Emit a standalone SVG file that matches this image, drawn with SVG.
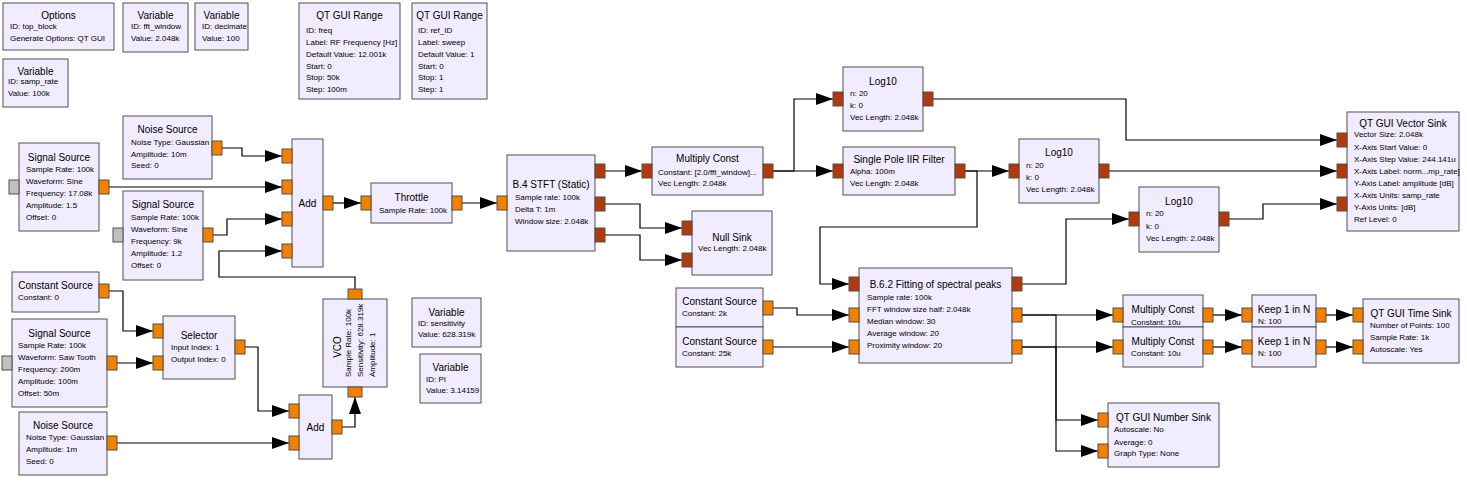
<svg xmlns="http://www.w3.org/2000/svg" width="1467" height="485" viewBox="0 0 1467 485">
<style>
.b{fill:#F1ECFF;stroke:#505050;stroke-width:1}
.t{font-family:"Liberation Sans",Arial,sans-serif;font-size:10px;text-anchor:middle;fill:#000}
.p{font-family:"Liberation Sans",Arial,sans-serif;font-size:8px;fill:#000}
.o{fill:#F58000;stroke:#505050;stroke-width:1}
.v{fill:#B03A0C;stroke:#505050;stroke-width:1}
.g{fill:#C0C0C0;stroke:#505050;stroke-width:1}
.c{fill:none;stroke:#000;stroke-width:1.2;marker-end:url(#arr)}
</style>
<defs>
<marker id="arr" markerUnits="userSpaceOnUse" markerWidth="17" markerHeight="12" refX="17" refY="6" orient="auto">
<path d="M0,0 L17,6 L0,12 z" fill="#000"/>
</marker>
</defs>
<rect width="1467" height="485" fill="#fff"/>

<g id="connectors">
<path class="c" d="M222,148 H242 V156 H282"/>
<path class="c" d="M109,187 H282"/>
<path class="c" d="M213,235 H227 V219 H282"/>
<path class="c" d="M355,289 V277 H219 V251 H282"/>
<path class="c" d="M333,203 H361"/>
<path class="c" d="M462,203 H497"/>
<path class="c" d="M605,171 H642"/>
<path class="c" d="M605,204 H640 V228 H682"/>
<path class="c" d="M605,235 H640 V260 H682"/>
<path class="c" d="M773,171 H833"/>
<path class="c" d="M773,171 H794 V99 H833"/>
<path class="c" d="M965,171 H1009"/>
<path class="c" d="M965,171 H977 V227 H820 V284 H849"/>
<path class="c" d="M933,99 H1126 V140 H1337"/>
<path class="c" d="M1109,171 H1337"/>
<path class="c" d="M1229,219 H1263 V204 H1337"/>
<path class="c" d="M1022,284 H1066 V219 H1129"/>
<path class="c" d="M773,308 H797 V315 H849"/>
<path class="c" d="M773,347 H849"/>
<path class="c" d="M1022,315 H1113"/>
<path class="c" d="M1022,347 H1113"/>
<path class="c" d="M1022,315 H1056 V420 H1098"/>
<path class="c" d="M1022,347 H1056 V451 H1098"/>
<path class="c" d="M1213,315 H1242"/>
<path class="c" d="M1213,347 H1242"/>
<path class="c" d="M1326,315 H1353"/>
<path class="c" d="M1326,347 H1353"/>
<path class="c" d="M109,291 H123 V331 H153"/>
<path class="c" d="M117,363 H153"/>
<path class="c" d="M245,347 H258 V411 H289"/>
<path class="c" d="M117,443 H289"/>
<path class="c" d="M342,427 H355 V397"/>
</g>

<g id="options">
<rect class="b" x="3" y="3" width="111" height="47"/>
<text class="t" x="58.5" y="18.5">Options</text>
<text class="p" x="10" y="28.5">ID: top_block</text>
<text class="p" x="10" y="40.5">Generate Options: QT GUI</text>
</g>
<g id="var_fft_window">
<rect class="b" x="123" y="3" width="65" height="49"/>
<text class="t" x="155.5" y="18.5">Variable</text>
<text class="p" x="131" y="28.5">ID: fft_window</text>
<text class="p" x="131" y="40.5">Value: 2.048k</text>
</g>
<g id="var_decimate">
<rect class="b" x="195" y="3" width="53" height="47"/>
<text class="t" x="221.5" y="18.5">Variable</text>
<text class="p" x="202" y="28.5">ID: decimate</text>
<text class="p" x="202" y="40.5">Value: 100</text>
</g>
<g id="var_samp_rate">
<rect class="b" x="3" y="59" width="65" height="48"/>
<text class="t" x="35.5" y="74.5">Variable</text>
<text class="p" x="8" y="84">ID: samp_rate</text>
<text class="p" x="8" y="96">Value: 100k</text>
</g>
<g id="range_freq">
<rect class="b" x="299" y="3" width="101" height="96"/>
<text class="t" x="349.5" y="19">QT GUI Range</text>
<text class="p" x="306" y="33">ID: freq</text>
<text class="p" x="306" y="45">Label: RF Frequency [Hz]</text>
<text class="p" x="306" y="56.5">Default Value: 12.001k</text>
<text class="p" x="306" y="68.5">Start: 0</text>
<text class="p" x="306" y="80">Stop: 50k</text>
<text class="p" x="306" y="91.5">Step: 100m</text>
</g>
<g id="range_ref_id">
<rect class="b" x="412" y="3" width="75" height="96"/>
<text class="t" x="449.5" y="19">QT GUI Range</text>
<text class="p" x="418" y="33">ID: ref_ID</text>
<text class="p" x="418" y="45">Label: sweep</text>
<text class="p" x="418" y="56.5">Default Value: 1</text>
<text class="p" x="418" y="68.5">Start: 0</text>
<text class="p" x="418" y="80">Stop: 1</text>
<text class="p" x="418" y="91.5">Step: 1</text>
</g>

<g id="signal_source_1">
<rect class="b" x="19" y="143" width="80" height="88"/>
<rect class="g" x="9" y="180" width="10" height="14"/>
<rect class="o" x="99" y="180" width="10" height="14"/>
<text class="t" x="59" y="160.5">Signal Source</text>
<text class="p" x="26" y="172">Sample Rate: 100k</text>
<text class="p" x="26" y="184">Waveform: Sine</text>
<text class="p" x="26" y="196">Frequency: 17.08k</text>
<text class="p" x="26" y="208">Amplitude: 1.5</text>
<text class="p" x="26" y="220">Offset: 0</text>
</g>
<g id="noise_source_1">
<rect class="b" x="123" y="116" width="89" height="63"/>
<rect class="o" x="212" y="141" width="10" height="14"/>
<text class="t" x="167.5" y="132.5">Noise Source</text>
<text class="p" x="131" y="145">Noise Type: Gaussian</text>
<text class="p" x="131" y="156.5">Amplitude: 10m</text>
<text class="p" x="131" y="168">Seed: 0</text>
</g>
<g id="signal_source_2">
<rect class="b" x="123" y="191" width="80" height="89"/>
<rect class="g" x="113" y="228" width="10" height="14"/>
<rect class="o" x="203" y="228" width="10" height="14"/>
<text class="t" x="163" y="207.5">Signal Source</text>
<text class="p" x="131" y="220">Sample Rate: 100k</text>
<text class="p" x="131" y="232">Waveform: Sine</text>
<text class="p" x="131" y="244">Frequency: 9k</text>
<text class="p" x="131" y="256">Amplitude: 1.2</text>
<text class="p" x="131" y="268">Offset: 0</text>
</g>
<g id="add_1">
<rect class="b" x="292" y="139" width="31" height="128"/>
<rect class="o" x="282" y="149" width="10" height="14"/>
<rect class="o" x="282" y="180" width="10" height="14"/>
<rect class="o" x="282" y="212" width="10" height="14"/>
<rect class="o" x="282" y="244" width="10" height="14"/>
<rect class="o" x="323" y="196" width="10" height="14"/>
<text class="t" x="307.5" y="206.5">Add</text>
</g>
<g id="constant_source_0">
<rect class="b" x="12" y="272" width="87" height="40"/>
<rect class="o" x="99" y="284" width="10" height="14"/>
<text class="t" x="55.5" y="288.5">Constant Source</text>
<text class="p" x="18" y="300">Constant: 0</text>
</g>
<g id="signal_source_3">
<rect class="b" x="12" y="319" width="95" height="88"/>
<rect class="g" x="2" y="356" width="10" height="14"/>
<rect class="o" x="107" y="356" width="10" height="14"/>
<text class="t" x="59.5" y="336.5">Signal Source</text>
<text class="p" x="18" y="348">Sample Rate: 100k</text>
<text class="p" x="18" y="360">Waveform: Saw Tooth</text>
<text class="p" x="18" y="372">Frequency: 200m</text>
<text class="p" x="18" y="384">Amplitude: 100m</text>
<text class="p" x="18" y="396">Offset: 50m</text>
</g>
<g id="noise_source_2">
<rect class="b" x="19" y="412" width="88" height="63"/>
<rect class="o" x="107" y="436" width="10" height="14"/>
<text class="t" x="63" y="428.5">Noise Source</text>
<text class="p" x="26" y="440">Noise Type: Gaussian</text>
<text class="p" x="26" y="452">Amplitude: 1m</text>
<text class="p" x="26" y="464">Seed: 0</text>
</g>
<g id="selector">
<rect class="b" x="163" y="316" width="72" height="63"/>
<rect class="o" x="153" y="324" width="10" height="14"/>
<rect class="o" x="153" y="356" width="10" height="14"/>
<rect class="o" x="235" y="340" width="10" height="14"/>
<text class="t" x="199" y="338.5">Selector</text>
<text class="p" x="171" y="350">Input Index: 1</text>
<text class="p" x="171" y="362">Output Index: 0</text>
</g>
<g id="add_2">
<rect class="b" x="299" y="395" width="33" height="64"/>
<rect class="o" x="289" y="404" width="10" height="14"/>
<rect class="o" x="289" y="436" width="10" height="14"/>
<rect class="o" x="332" y="420" width="10" height="14"/>
<text class="t" x="315.5" y="430.5">Add</text>
</g>
<g id="vco">
<rect class="b" x="323" y="299" width="64" height="88"/>
<rect class="o" x="348" y="289" width="14" height="10"/>
<rect class="o" x="348" y="387" width="14" height="10"/>
<text class="t" transform="translate(341,347) rotate(-90)">VCO</text>
<text class="p" transform="translate(351,377) rotate(-90)">Sample Rate: 100k</text>
<text class="p" transform="translate(363,377) rotate(-90)">Sensitivity: 628.319k</text>
<text class="p" transform="translate(375,377) rotate(-90)">Amplitude: 1</text>
</g>
<g id="var_sensitivity">
<rect class="b" x="412" y="298" width="69" height="49"/>
<text class="t" x="446.5" y="315.5">Variable</text>
<text class="p" x="418" y="326">ID: sensitivity</text>
<text class="p" x="418" y="337">Value: 628.319k</text>
</g>
<g id="var_pi">
<rect class="b" x="420" y="354" width="61" height="49"/>
<text class="t" x="450.5" y="370.5">Variable</text>
<text class="p" x="426" y="382">ID: PI</text>
<text class="p" x="426" y="393">Value: 3.14159</text>
</g>
<g id="throttle">
<rect class="b" x="371" y="183" width="81" height="40"/>
<rect class="o" x="361" y="196" width="10" height="14"/>
<rect class="o" x="452" y="196" width="10" height="14"/>
<text class="t" x="411.5" y="200.5">Throttle</text>
<text class="p" x="379" y="213">Sample Rate: 100k</text>
</g>
<g id="stft">
<rect class="b" x="507" y="155" width="88" height="96"/>
<rect class="o" x="497" y="196" width="10" height="14"/>
<rect class="v" x="595" y="164" width="10" height="14"/>
<rect class="v" x="595" y="197" width="10" height="14"/>
<rect class="v" x="595" y="228" width="10" height="14"/>
<text class="t" x="551" y="187.5">B.4 STFT (Static)</text>
<text class="p" x="515" y="200">Sample rate: 100k</text>
<text class="p" x="515" y="212">Delta T: 1m</text>
<text class="p" x="515" y="224">Window size: 2.048k</text>
</g>
<g id="multiply_const_1">
<rect class="b" x="652" y="147" width="111" height="48"/>
<rect class="v" x="642" y="164" width="10" height="14"/>
<rect class="v" x="763" y="164" width="10" height="14"/>
<text class="t" x="707.5" y="161.5">Multiply Const</text>
<text class="p" x="658" y="175">Constant: [2.0/fft_window]...</text>
<text class="p" x="658" y="186">Vec Length: 2.048k</text>
</g>
<g id="null_sink">
<rect class="b" x="692" y="211" width="80" height="64"/>
<rect class="v" x="682" y="221" width="10" height="14"/>
<rect class="v" x="682" y="253" width="10" height="14"/>
<text class="t" x="732" y="240.5">Null Sink</text>
<text class="p" x="698" y="251">Vec Length: 2.048k</text>
</g>
<g id="log10_1">
<rect class="b" x="843" y="67" width="80" height="64"/>
<rect class="v" x="833" y="92" width="10" height="14"/>
<rect class="v" x="923" y="92" width="10" height="14"/>
<text class="t" x="883" y="84.5">Log10</text>
<text class="p" x="850" y="96">n: 20</text>
<text class="p" x="850" y="108">k: 0</text>
<text class="p" x="850" y="120">Vec Length: 2.048k</text>
</g>
<g id="iir_filter">
<rect class="b" x="843" y="147" width="112" height="48"/>
<rect class="v" x="833" y="164" width="10" height="14"/>
<rect class="v" x="955" y="164" width="10" height="14"/>
<text class="t" x="899" y="162.5">Single Pole IIR Filter</text>
<text class="p" x="850" y="174">Alpha: 100m</text>
<text class="p" x="850" y="186">Vec Length: 2.048k</text>
</g>
<g id="log10_2">
<rect class="b" x="1019" y="139" width="80" height="64"/>
<rect class="v" x="1009" y="164" width="10" height="14"/>
<rect class="v" x="1099" y="164" width="10" height="14"/>
<text class="t" x="1059" y="155.5">Log10</text>
<text class="p" x="1026" y="168">n: 20</text>
<text class="p" x="1026" y="180">k: 0</text>
<text class="p" x="1026" y="192">Vec Length: 2.048k</text>
</g>
<g id="log10_3">
<rect class="b" x="1139" y="187" width="80" height="65"/>
<rect class="v" x="1129" y="212" width="10" height="14"/>
<rect class="v" x="1219" y="212" width="10" height="14"/>
<text class="t" x="1179" y="204.5">Log10</text>
<text class="p" x="1146" y="216">n: 20</text>
<text class="p" x="1146" y="229">k: 0</text>
<text class="p" x="1146" y="241">Vec Length: 2.048k</text>
</g>
<g id="vector_sink">
<rect class="b" x="1347" y="112" width="112" height="119"/>
<rect class="v" x="1337" y="133" width="10" height="14"/>
<rect class="v" x="1337" y="164" width="10" height="14"/>
<rect class="v" x="1337" y="197" width="10" height="14"/>
<text class="t" x="1403" y="126.5">QT GUI Vector Sink</text>
<text class="p" x="1354" y="137">Vector Size: 2.048k</text>
<text class="p" x="1354" y="149.5">X-Axis Start Value: 0</text>
<text class="p" x="1354" y="162">X-Axis Step Value: 244.141u</text>
<text class="p" x="1354" y="174">X-Axis Label: norm...mp_rate]</text>
<text class="p" x="1354" y="186">Y-Axis Label: amplitude [dB]</text>
<text class="p" x="1354" y="198">X-Axis Units: samp_rate</text>
<text class="p" x="1354" y="210">Y-Axis Units: [dB]</text>
<text class="p" x="1354" y="222">Ref Level: 0</text>
</g>
<g id="constant_source_2k">
<rect class="b" x="676" y="288" width="87" height="39"/>
<rect class="o" x="763" y="301" width="10" height="14"/>
<text class="t" x="719.5" y="304.5">Constant Source</text>
<text class="p" x="682" y="316">Constant: 2k</text>
</g>
<g id="constant_source_25k">
<rect class="b" x="676" y="327" width="87" height="40"/>
<rect class="o" x="763" y="340" width="10" height="14"/>
<text class="t" x="719.5" y="344.5">Constant Source</text>
<text class="p" x="682" y="356">Constant: 25k</text>
</g>
<g id="fitting_spectral_peaks">
<rect class="b" x="859" y="268" width="153" height="95"/>
<rect class="v" x="849" y="277" width="10" height="14"/>
<rect class="o" x="849" y="308" width="10" height="14"/>
<rect class="o" x="849" y="340" width="10" height="14"/>
<rect class="v" x="1012" y="277" width="10" height="14"/>
<rect class="o" x="1012" y="308" width="10" height="14"/>
<rect class="o" x="1012" y="340" width="10" height="14"/>
<text class="t" x="935.5" y="287.5">B.6.2 Fitting of spectral peaks</text>
<text class="p" x="867" y="300">Sample rate: 100k</text>
<text class="p" x="867" y="312">FFT window size half: 2.048k</text>
<text class="p" x="867" y="324">Median window: 30</text>
<text class="p" x="867" y="336">Average window: 20</text>
<text class="p" x="867" y="348">Proximity window: 20</text>
</g>
<g id="multiply_const_2">
<rect class="b" x="1123" y="295" width="80" height="32"/>
<rect class="o" x="1113" y="308" width="10" height="14"/>
<rect class="o" x="1203" y="308" width="10" height="14"/>
<text class="t" x="1163" y="312.5">Multiply Const</text>
<text class="p" x="1131" y="325">Constant: 10u</text>
</g>
<g id="multiply_const_3">
<rect class="b" x="1123" y="327" width="80" height="40"/>
<rect class="o" x="1113" y="340" width="10" height="14"/>
<rect class="o" x="1203" y="340" width="10" height="14"/>
<text class="t" x="1163" y="344.5">Multiply Const</text>
<text class="p" x="1131" y="356">Constant: 10u</text>
</g>
<g id="keep_1_in_n_1">
<rect class="b" x="1252" y="295" width="64" height="32"/>
<rect class="o" x="1242" y="308" width="10" height="14"/>
<rect class="o" x="1316" y="308" width="10" height="14"/>
<text class="t" x="1284" y="312.5">Keep 1 in N</text>
<text class="p" x="1258" y="324">N: 100</text>
</g>
<g id="keep_1_in_n_2">
<rect class="b" x="1252" y="327" width="64" height="40"/>
<rect class="o" x="1242" y="340" width="10" height="14"/>
<rect class="o" x="1316" y="340" width="10" height="14"/>
<text class="t" x="1284" y="344.5">Keep 1 in N</text>
<text class="p" x="1258" y="356">N: 100</text>
</g>
<g id="time_sink">
<rect class="b" x="1363" y="299" width="96" height="64"/>
<rect class="o" x="1353" y="308" width="10" height="14"/>
<rect class="o" x="1353" y="340" width="10" height="14"/>
<text class="t" x="1411" y="316.5">QT GUI Time Sink</text>
<text class="p" x="1370" y="328">Number of Points: 100</text>
<text class="p" x="1370" y="340">Sample Rate: 1k</text>
<text class="p" x="1370" y="352">Autoscale: Yes</text>
</g>
<g id="number_sink">
<rect class="b" x="1108" y="403" width="111" height="64"/>
<rect class="o" x="1098" y="413" width="10" height="14"/>
<rect class="o" x="1098" y="444" width="10" height="14"/>
<text class="t" x="1163.5" y="420.5">QT GUI Number Sink</text>
<text class="p" x="1114" y="432">Autoscale: No</text>
<text class="p" x="1114" y="445">Average: 0</text>
<text class="p" x="1114" y="456">Graph Type: None</text>
</g>
</svg>
